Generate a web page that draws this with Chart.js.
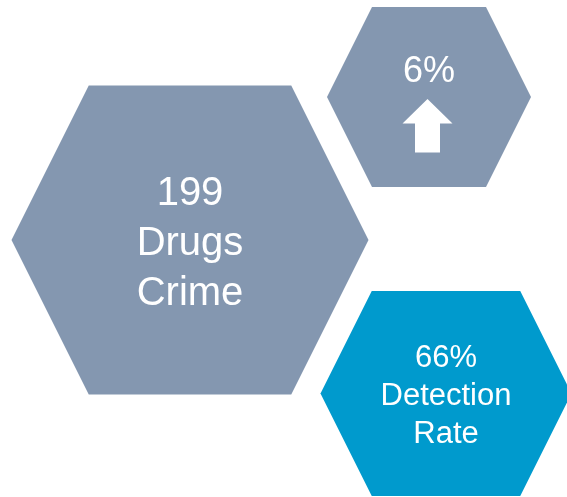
<!DOCTYPE html>
<html>
<head>
<meta charset="utf-8">
<script src="https://cdn.jsdelivr.net/npm/chart.js@4"></script>
<style>
  html, body { margin: 0; padding: 0; background: #fff; }
</style>
</head>
<body>
<canvas id="myChart" width="567" height="497"></canvas>
<script>
// Figures shown in the hexagons
const hexValues = ["199", "6%", "66%"];
const hexCaptions = [["Drugs", "Crime"], [], ["Detection", "Rate"]];
const trendDirection = ["", "up", ""];

// Layout of each hexagon (centre, half width, half height) in page units
const hexLayout = [
  { cx: 190, cy: 240, hw: 178.5, hh: 154.5 },
  { cx: 429, cy: 97, hw: 102, hh: 90 },
  { cx: 446, cy: 393.5, hw: 125.5, hh: 102.5 },
];
const hexColors = ["#8497B0", "#8497B0", "#009ACD"];
const fontSizes = [40, 36, 31];
const lineGaps = [50, 0, 38];
const firstBaseline = [205, 82, 367];

// build polygon points for a flat-top hexagon
function hexPoints(h) {
  const inset = h.hh / 2;
  return [
    { x: h.cx - h.hw, y: h.cy },
    { x: h.cx - h.hw + inset, y: h.cy - h.hh },
    { x: h.cx + h.hw - inset, y: h.cy - h.hh },
    { x: h.cx + h.hw, y: h.cy },
    { x: h.cx + h.hw - inset, y: h.cy + h.hh },
    { x: h.cx - h.hw + inset, y: h.cy + h.hh },
    { x: h.cx - h.hw, y: h.cy },
  ];
}

// up arrow under the 6%
function arrowPoints(cx, tipY) {
  return [
    { x: cx, y: tipY },
    { x: cx + 25, y: tipY + 24.5 },
    { x: cx + 12.5, y: tipY + 24.5 },
    { x: cx + 12.5, y: tipY + 53.5 },
    { x: cx - 12.5, y: tipY + 53.5 },
    { x: cx - 12.5, y: tipY + 24.5 },
    { x: cx - 25, y: tipY + 24.5 },
    { x: cx, y: tipY },
  ];
}

const datasets = hexLayout.map((h, i) => ({
  label: hexValues[i],
  data: hexPoints(h),
  showLine: true,
  fill: "shape",
  backgroundColor: hexColors[i],
  borderColor: hexColors[i],
  borderWidth: 0,
  pointRadius: 0,
  tension: 0,
  clip: false,
  order: 1,
}));

trendDirection.forEach((d, i) => {
  if (d === "up") {
    datasets.push({
      label: "arrow",
      data: arrowPoints(hexLayout[i].cx - 1.5, 99),
      showLine: true,
      fill: "shape",
      backgroundColor: "#ffffff",
      borderColor: "#ffffff",
      borderWidth: 0,
      pointRadius: 0,
      tension: 0,
      clip: false,
      order: 0, // on top of the hexagon
    });
  }
});

// writes the numbers and captions inside the hexagons
const hexText = {
  id: "hexText",
  afterDatasetsDraw(chart) {
    const ctx = chart.ctx;
    const xs = chart.scales.x;
    const ys = chart.scales.y;
    ctx.save();
    ctx.fillStyle = "#ffffff";
    ctx.textAlign = "center";
    ctx.textBaseline = "alphabetic";
    hexLayout.forEach((h, i) => {
      ctx.font = fontSizes[i] + 'px "Liberation Sans", Arial, sans-serif';
      const lines = [hexValues[i]].concat(hexCaptions[i]);
      lines.forEach((t, k) => {
        ctx.fillText(t, xs.getPixelForValue(h.cx), ys.getPixelForValue(firstBaseline[i] + k * lineGaps[i]));
      });
    });
    ctx.restore();
  },
};

const ctx = document.getElementById("myChart").getContext("2d");
const myChart = new Chart(ctx, {
  type: "scatter",
  data: { datasets: datasets },
  options: {
    responsive: false,
    animation: false,
    layout: { padding: 0 },
    plugins: {
      legend: { display: false },
      tooltip: { enabled: false },
    },
    scales: {
      x: { type: "linear", min: 0, max: 567, display: false },
      y: { type: "linear", min: 0, max: 497, reverse: true, display: false },
    },
  },
  plugins: [hexText],
});
</script>
</body>
</html>
